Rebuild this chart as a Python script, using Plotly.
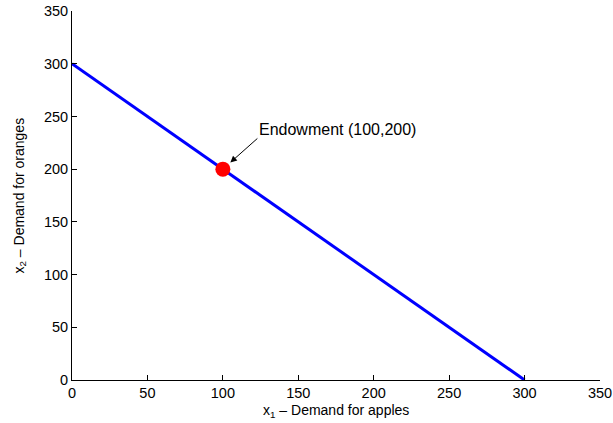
import plotly.graph_objects as go

# Data
budget_x = [0, 300]
budget_y = [300, 0]
endow_x = [100]
endow_y = [200]
endow_label = "Endowment (100,200)"
tick_vals = [0, 50, 100, 150, 200, 250, 300, 350]
x_title = "x<sub>1</sub> – Demand for apples"
y_title = "x<sub>2</sub> – Demand for oranges"

fig = go.Figure()
fig.add_trace(go.Scatter(x=budget_x, y=budget_y, mode="lines",
                         line=dict(color="#0000ff", width=3), showlegend=False))
fig.add_trace(go.Scatter(x=endow_x, y=endow_y, mode="markers",
                         marker=dict(color="#ff0000", size=15, line=dict(width=0)),
                         showlegend=False))

fam = "Liberation Sans, Arial, sans-serif"
font = dict(family=fam, size=14.5, color="black")
afont = dict(family=fam, size=16, color="black")
tfont = dict(family=fam, size=14, color="black")

fig.add_annotation(x=endow_x[0], y=endow_y[0], xref="x", yref="y",
                   ax=36, ay=-32, axref="pixel", ayref="pixel",
                   text="", showarrow=True, arrowhead=2, arrowsize=1.3,
                   arrowwidth=1, arrowcolor="black", standoff=10)
fig.add_annotation(x=endow_x[0], y=endow_y[0], xref="x", yref="y",
                   xshift=34, yshift=40, xanchor="left", yanchor="middle",
                   text=endow_label, showarrow=False, font=afont)

# axis titles
fig.add_annotation(x=0.5, y=0, xref="paper", yref="paper", yshift=-31,
                   xanchor="center", yanchor="middle", text=x_title,
                   showarrow=False, font=tfont)
fig.add_annotation(x=0, y=0.5, xref="paper", yref="paper", xshift=-53,
                   xanchor="center", yanchor="middle", text=y_title,
                   textangle=-90, showarrow=False, font=tfont)

axis_common = dict(range=[0, 350], tickvals=tick_vals, ticks="inside", ticklen=5,
                   tickcolor="black", showline=True, linecolor="black", linewidth=1,
                   showgrid=False, zeroline=False, tickfont=font, mirror=False,
                   automargin=False)
fig.update_layout(
    width=613, height=423,
    paper_bgcolor="white", plot_bgcolor="white",
    margin=dict(l=72, r=13, t=11, b=43),
    font=font,
    xaxis=dict(**axis_common),
    yaxis=dict(**axis_common),
)
fig.write_html("out.html", config={"displayModeBar": False},
               post_script="document.body.style.margin='0';document.body.style.overflow='hidden';")
